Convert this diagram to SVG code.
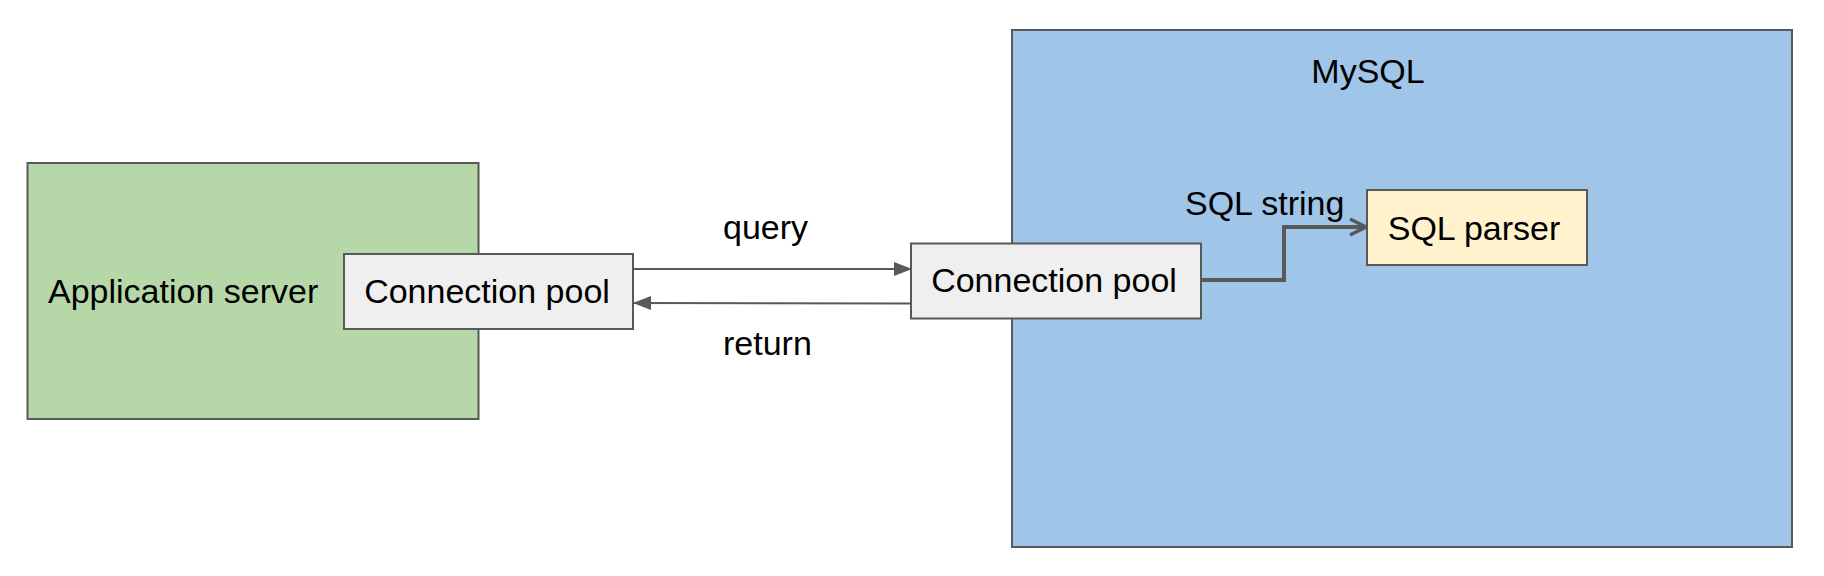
<svg xmlns="http://www.w3.org/2000/svg" width="1824" height="576" viewBox="0 0 1824 576">
<defs>
<style>
.box{stroke:#595959;stroke-width:2}
.t{font-family:"Liberation Sans",Arial,sans-serif;font-size:34px;fill:#000}
.c{fill:none;stroke:#595959;stroke-width:2}
</style>
<marker id="tri" viewBox="0 0 18 14" refX="17" refY="7" markerWidth="18" markerHeight="14" markerUnits="userSpaceOnUse" orient="auto">
<path d="M0,0 L18,7 L0,14 Z" fill="#595959"/>
</marker>
<marker id="chev" viewBox="0 0 22 22" refX="20" refY="11" markerWidth="22" markerHeight="22" markerUnits="userSpaceOnUse" orient="auto">
<path d="M4,3 L20,11 L4,19" fill="none" stroke="#595959" stroke-width="3.5"/>
</marker>
</defs>
<rect width="1824" height="576" fill="#fff"/>
<g id="app-server">
<rect class="box" x="27.5" y="163" width="451" height="256" fill="#b6d7a8"/>
<text class="t" x="48" y="303">Application server</text>
</g>
<g id="mysql">
<rect class="box" x="1012" y="30" width="780" height="517" fill="#9fc5e8"/>
<text class="t" x="1368" y="83" text-anchor="middle">MySQL</text>
</g>
<g id="pool-app">
<rect class="box" x="344" y="254" width="289" height="75" fill="#efefef"/>
<text class="t" x="487" y="303" text-anchor="middle">Connection pool</text>
</g>
<g id="pool-mysql">
<rect class="box" x="911" y="243.5" width="290" height="75" fill="#efefef"/>
<text class="t" x="1054" y="292" text-anchor="middle">Connection pool</text>
</g>
<g id="sql-parser">
<rect class="box" x="1367" y="190" width="220" height="75" fill="#fff2cc"/>
<text class="t" x="1474" y="240" text-anchor="middle">SQL parser</text>
</g>
<g id="connectors">
<line class="c" x1="633" y1="269" x2="911" y2="269" marker-end="url(#tri)"/>
<line class="c" x1="911" y1="303.5" x2="634" y2="303" marker-end="url(#tri)"/>
<polyline class="c" style="stroke-width:4" points="1201,280 1284,280 1284,227 1366,227" marker-end="url(#chev)"/>
<text class="t" x="723" y="239">query</text>
<text class="t" x="723" y="355">return</text>
<text class="t" x="1185" y="215">SQL string</text>
</g>
</svg>
